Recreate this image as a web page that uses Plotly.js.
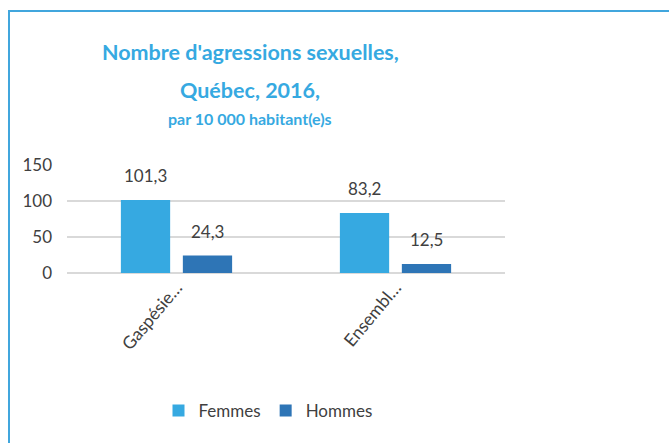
<!DOCTYPE html>
<html>
<head>
<meta charset="utf-8">
<script src="https://cdn.plot.ly/plotly-3.0.1.min.js"></script>
<style>
html,body{margin:0;padding:0;background:#fff;}
#wrap{position:relative;width:669px;height:443px;overflow:hidden;}
#frame{position:absolute;left:8px;top:10px;width:700px;height:500px;border-top:2px solid #41A6DD;border-left:2px solid #41A6DD;pointer-events:none;z-index:5;}
#chart{position:absolute;left:0;top:0;width:669px;height:443px;}
</style>
</head>
<body>
<div id="wrap"><div id="chart"></div><div id="frame"></div></div>
<script>
const categories = ["Gaspésie…", "Ensembl…"];
const seriesNames = ["Femmes", "Hommes"];
const femmes = [101.3, 83.2];
const hommes = [24.3, 12.5];
const yTicks = [0, 50, 100, 150];
const titleLines = ["Nombre d'agressions sexuelles,", "Québec, 2016,", "par 10 000 habitant(e)s"];

const colors = ["#36A9E1", "#2E75B6"];
const textColor = "#404040";
const font = "Lato, 'Open Sans', sans-serif";
const fmt = v => v.toFixed(1).replace(".", ",");

const series = [femmes, hommes];
const traces = series.map((vals, i) => ({
  type: "bar",
  name: seriesNames[i],
  x: categories,
  y: vals,
  marker: {color: colors[i]},
  hoverinfo: "none"
}));

const annotations = [];
series.forEach((vals, i) => {
  vals.forEach((v, j) => {
    annotations.push({
      xref: "x", yref: "y", x: categories[j], y: v,
      xshift: i === 0 ? -31 : 31, yshift: 12,
      yanchor: "bottom", showarrow: false,
      text: fmt(v),
      font: {family: font, size: 17, color: textColor}
    });
  });
});
const titleY = [52, 90, 118];
const titleSizes = [21.5, 21.5, 16];
titleLines.forEach((t, k) => {
  annotations.push({
    xref: "paper", yref: "paper",
    x: (250 - 67) / 438, y: (273 - titleY[k]) / 108,
    xanchor: "center", yanchor: "middle", showarrow: false,
    text: "<b>" + t + "</b>",
    font: {family: font, size: titleSizes[k], color: "#36A9E1"}
  });
});

const layout = {
  width: 669, height: 443,
  margin: {l: 67, r: 164, t: 165, b: 170, pad: 0, autoexpand: false},
  paper_bgcolor: "#ffffff", plot_bgcolor: "#ffffff",
  barmode: "group", bargap: 0.434, bargroupgap: 0.205,
  font: {family: font, size: 17, color: textColor},
  showlegend: true,
  legend: {orientation: "h", xref: "paper", x: (268 - 67) / 438, xanchor: "center", y: (273 - 411) / 108, yanchor: "middle",
           font: {family: font, size: 17, color: textColor}, itemwidth: 30, traceorder: "normal"},
  xaxis: {type: "category", tickangle: -50, showgrid: false, zeroline: false, showline: false, ticks: "", automargin: false,
          tickfont: {family: font, size: 17.5, color: textColor}, fixedrange: true},
  yaxis: {range: [0, 150], tickvals: yTicks, ticktext: yTicks.map(String), showgrid: true, gridcolor: "#D9D9D9", gridwidth: 1.5,
          zeroline: true, zerolinecolor: "#D9D9D9", zerolinewidth: 1.5, showline: false, ticks: "", ticklabelstandoff: 14, automargin: false,
          tickfont: {family: font, size: 17, color: textColor}, fixedrange: true},
  annotations: annotations
};

Plotly.newPlot("chart", traces, layout, {displayModeBar: false, staticPlot: true});
</script>
</body>
</html>
